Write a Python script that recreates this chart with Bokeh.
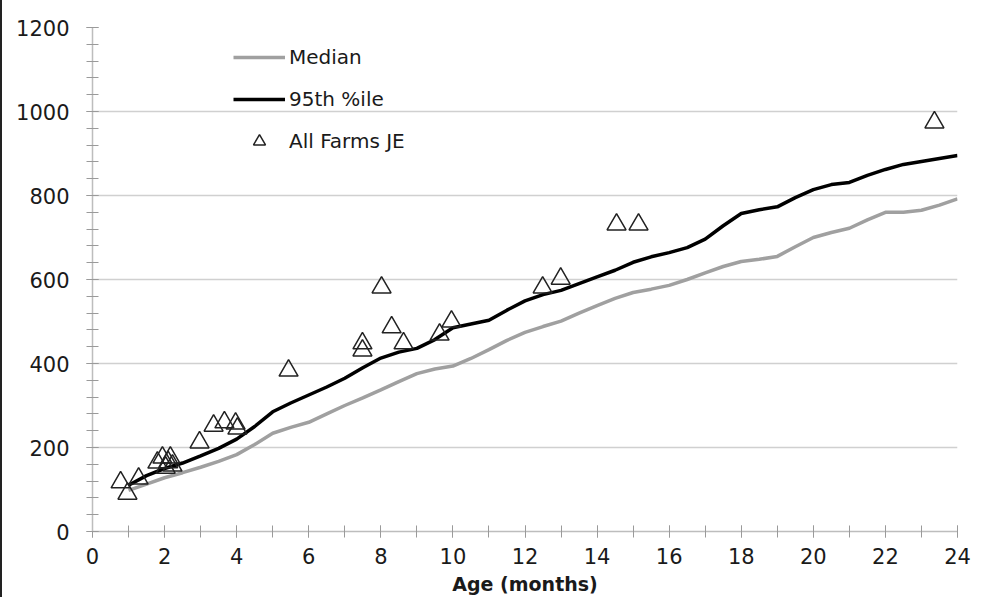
from bokeh.plotting import figure
from bokeh.models import Legend, LegendItem, FixedTicker, Range1d
from bokeh.embed import file_html
from bokeh.resources import INLINE

# ---- data ----
months = [1.0, 1.5, 2.0, 2.5, 3.0, 3.5, 4.0, 4.5, 5.0, 5.5, 6.0, 6.5, 7.0, 7.5, 8.0, 8.5,
          9.0, 9.5, 10.0, 10.5, 11.0, 11.5, 12.0, 12.5, 13.0, 13.5, 14.0, 14.5, 15.0, 15.5,
          16.0, 16.5, 17.0, 17.5, 18.0, 18.5, 19.0, 19.5, 20.0, 20.5, 21.0, 21.5, 22.0, 22.5,
          23.0, 23.5, 24.0]
median = [98, 113, 128, 140, 153, 167, 183, 207, 234, 248, 260, 280, 300, 318, 337, 357,
          376, 387, 394, 412, 433, 455, 474, 488, 501, 520, 538, 555, 569, 577,
          586, 600, 616, 631, 643, 648, 655, 678, 700, 712, 722, 742, 760, 760,
          765, 777, 792]
p95 = [110, 133, 150, 163, 180, 198, 220, 250, 285, 306, 325, 344, 365, 390, 413, 427,
       436, 457, 485, 494, 503, 527, 549, 564, 574, 590, 606, 622, 641, 654,
       664, 676, 696, 728, 757, 766, 773, 795, 814, 826, 831, 848, 862, 874,
       881, 888, 895]

farm_age = [0.78, 0.97, 1.28, 1.80, 1.94, 2.03, 2.10, 2.16, 2.22, 2.97, 3.36, 3.66, 3.97, 4.02,
            5.44, 7.49, 7.49, 8.02, 8.30, 8.63, 9.63, 9.96, 12.49, 12.99, 14.54, 15.15, 23.36]
farm_wt = [117, 90, 126, 164, 176, 152, 165, 176, 157, 212, 252, 260, 257, 245,
           383, 448, 431, 581, 486, 448, 469, 500, 581, 602, 731, 731, 974]

x_ticks = list(range(0, 25, 2))
y_ticks = list(range(0, 1201, 200))

FONT = "DejaVu Sans"

p = figure(width=972, height=597, output_backend="svg", toolbar_location=None,
           x_range=Range1d(0, 24), y_range=Range1d(0, 1200),
           min_border_left=90, min_border_right=17, min_border_top=27, min_border_bottom=66,
           styles={"border-left": "2px solid #222222"})
p.outline_line_color = None
p.background_fill_color = "white"
p.border_fill_color = "white"

# grid
p.xgrid.grid_line_color = None
p.ygrid.grid_line_color = "#d0d0d0"
p.ygrid.grid_line_width = 1.5

# axes
for ax in (p.xaxis[0], p.yaxis[0]):
    ax.axis_line_color = "#bdbdbd"
    ax.axis_line_width = 1.5
    ax.major_tick_line_color = "#9a9a9a"
    ax.minor_tick_line_color = "#9a9a9a"
    ax.major_tick_in = 6
    ax.major_tick_out = 6
    ax.minor_tick_in = 6
    ax.minor_tick_out = 6
    ax.major_label_text_font = FONT
    ax.major_label_text_font_size = "21px"
    ax.major_label_text_color = "#1a1a1a"

p.xaxis.ticker = FixedTicker(ticks=x_ticks, minor_ticks=list(range(0, 25)))
p.yaxis.ticker = FixedTicker(ticks=y_ticks, minor_ticks=list(range(0, 1201, 40)))
p.xaxis.major_label_standoff = 10
p.yaxis.major_label_standoff = 17
p.xaxis.axis_label = "Age (months)"
p.xaxis.axis_label_text_font = FONT
p.xaxis.axis_label_text_font_style = "bold"
p.xaxis.axis_label_text_font_size = "19px"
p.xaxis.axis_label_text_color = "#1a1a1a"
p.xaxis.axis_label_standoff = 6

# series
r_med = p.line(months, median, line_color="#a0a0a0", line_width=3.5)
r_95 = p.line(months, p95, line_color="#000000", line_width=3.5)
r_pts = p.scatter(farm_age, farm_wt, marker="triangle", size=19, fill_alpha=0,
                  line_color="#222222", line_width=1.5)

legend = Legend(items=[LegendItem(label="Median", renderers=[r_med]),
                       LegendItem(label="95th %ile", renderers=[r_95]),
                       LegendItem(label="All Farms JE", renderers=[r_pts])],
                location=(141, 375), padding=0, margin=0, spacing=12,
                glyph_width=52, glyph_height=30, label_height=30, label_standoff=4,
                label_text_font=FONT, label_text_font_size="20px",
                label_text_color="#1a1a1a",
                background_fill_alpha=0, border_line_color=None)
p.add_layout(legend)

open("out.html", "w").write(file_html(p, INLINE))
